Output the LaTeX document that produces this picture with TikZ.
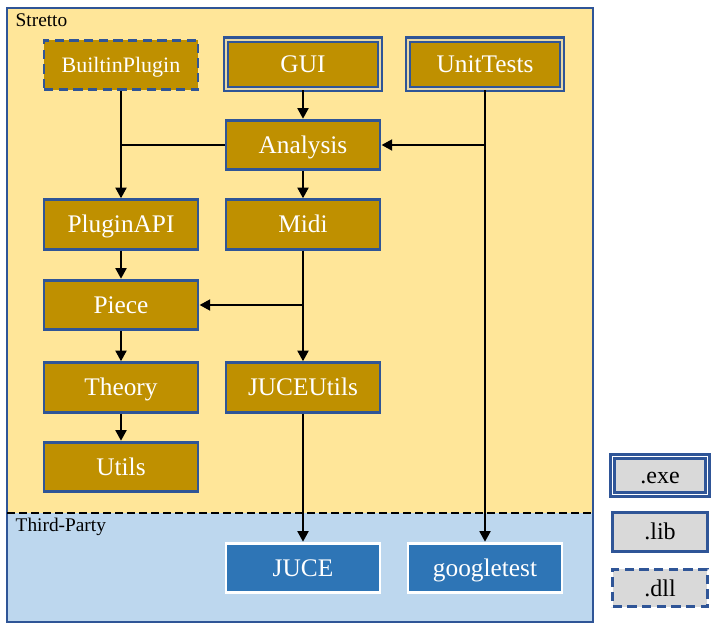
\documentclass[tikz,border=0pt]{standalone}
\usepackage{fontspec}
\setmainfont{Liberation Serif}
\usetikzlibrary{arrows.meta}
\definecolor{boxgold}{HTML}{BF9000}
\definecolor{frameblue}{HTML}{2F5597}
\definecolor{strettobg}{HTML}{FFE699}
\definecolor{thirdbg}{HTML}{BDD7EE}
\definecolor{extblue}{HTML}{2E75B6}
\definecolor{legendgray}{HTML}{D9D9D9}

\begin{document}
\begin{tikzpicture}[x=0.75pt,y=-0.75pt]

\tikzset{module/.style={draw=frameblue,line width=2.2pt,fill=boxgold,text=white,minimum width=115.5pt,minimum height=37pt,inner sep=0pt,text height=12.6pt,text depth=0pt,font=\fontsize{19}{22}\selectfont}, %module Stretto
	exemod/.style={module,double=boxgold!35!white,double distance=1.2pt,line width=1.9pt},
	dllmod/.style={module,dash pattern=on 7pt off 4pt},
	extmod/.style={module,draw=white,fill=extblue},
	legendbox/.style={module,fill=legendgray,text=black,minimum width=71pt,minimum height=29pt,text height=12pt,font=\fontsize{18}{20}\selectfont},
	dep/.style={line width=2.1pt,-{Triangle[length=8pt,width=8pt]}},
	deplink/.style={line width=2.1pt}}

\useasboundingbox (0,0) rectangle (718,634);

%zones
\fill[strettobg] (7,8) rectangle (593,513);
\fill[thirdbg] (7,513) rectangle (593,622);
\draw[frameblue,line width=1.6pt] (7,8) rectangle (593,622);
\draw[dashed,line width=1.6pt,dash pattern=on 6pt off 3pt] (7,513) -- (593,513);
\node[anchor=west,font=\fontsize{14.5}{16}\selectfont] (stretto) at (11,20) {Stretto};
\node[anchor=west,font=\fontsize{14.5}{16}\selectfont] (thirdparty) at (11,527) {Third-Party};

%modules
\node[dllmod,text height=11pt,font=\fontsize{16.5}{19}\selectfont] (builtin) at (121,65) {BuiltinPlugin};
\node[exemod] (gui) at (303,64.5) {GUI};
\node[exemod] (unittests) at (485,64.5) {UnitTests};
\node[module] (analysis) at (303,145) {Analysis};
\node[module] (pluginapi) at (121,224.5) {PluginAPI};
\node[module] (midi) at (303,224.5) {Midi};
\node[module] (piece) at (121,305) {Piece};
\node[module] (theory) at (121,387.5) {Theory};
\node[module] (juceutils) at (303,387.5) {JUCEUtils};
\node[module] (utils) at (121,467) {Utils};

%third party
\node[extmod] (juce) at (303,568) {JUCE};
\node[extmod] (googletest) at (485,568) {googletest};

%legende
\node[legendbox,double=white,double distance=1.2pt,line width=1.9pt,minimum height=28.5pt] (legexe) at (660,475.5) {.exe};
\node[legendbox] (leglib) at (660,532) {.lib};
\node[legendbox,dash pattern=on 7pt off 4pt,minimum height=28pt] (legdll) at (660,588) {.dll};

%dependances
\coordinate (jbuiltin) at (builtin.south |- analysis.west);
\coordinate (jtests) at (unittests.south |- analysis.east);
\coordinate (jmidi) at (midi.south |- piece.east);
\draw[dep] (gui) -- (analysis);
\draw[dep] (builtin) -- (pluginapi);
\draw[deplink] (analysis) -- (jbuiltin);
\draw[dep] (unittests) -- (googletest);
\draw[dep] (jtests) -- (analysis);
\draw[dep] (analysis) -- (midi);
\draw[dep] (pluginapi) -- (piece);
\draw[dep] (midi) -- (juceutils);
\draw[dep] (jmidi) -- (piece);
\draw[dep] (piece) -- (theory);
\draw[dep] (theory) -- (utils);
\draw[dep] (juceutils) -- (juce);

\end{tikzpicture}
\end{document}
